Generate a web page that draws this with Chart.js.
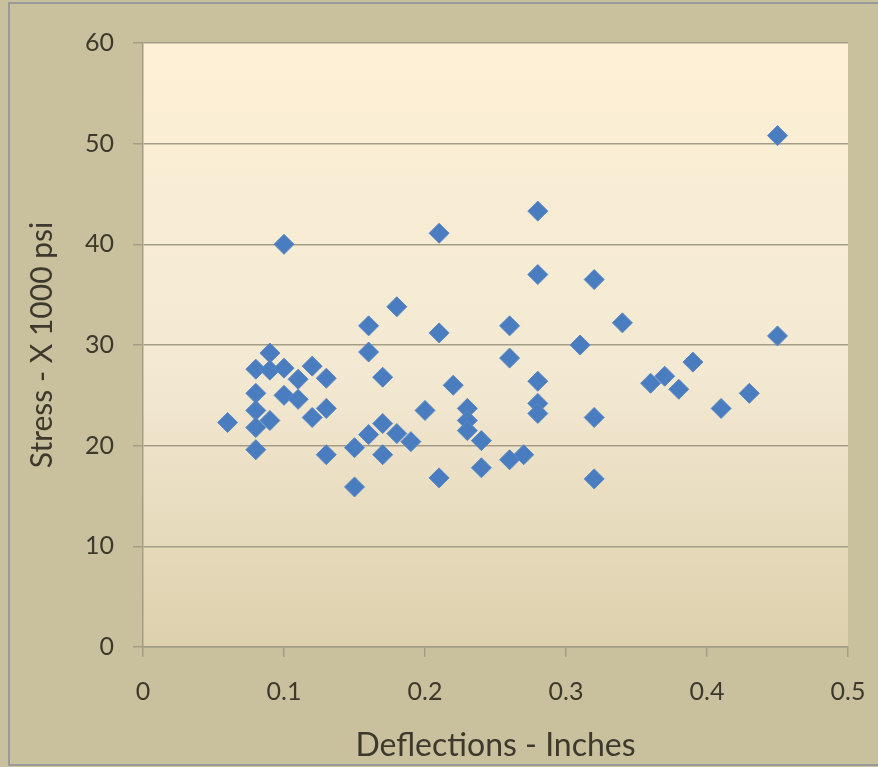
<!DOCTYPE html>
<html>
<head>
<meta charset="utf-8">
<script src="https://cdn.jsdelivr.net/npm/chart.js@4/dist/chart.umd.min.js"></script>
<style>
  html, body { margin: 0; padding: 0; background: #c9c19d; }
  #wrap { width: 878px; height: 767px; position: relative; }
</style>
</head>
<body>
<div id="wrap"><canvas id="c" width="878" height="767"></canvas></div>
<script>
// Deflection (inches) and stress (x 1000 psi) for each specimen
const deflections = [
  0.06, 0.08, 0.08, 0.08, 0.08, 0.08, 0.09, 0.09, 0.09, 0.10,
  0.10, 0.10, 0.11, 0.11, 0.12, 0.12, 0.13, 0.13, 0.13, 0.15,
  0.15, 0.16, 0.16, 0.16, 0.17, 0.17, 0.17, 0.18, 0.18, 0.19,
  0.20, 0.21, 0.21, 0.21, 0.22, 0.23, 0.23, 0.23, 0.24, 0.24,
  0.26, 0.26, 0.26, 0.27, 0.28, 0.28, 0.28, 0.28, 0.28, 0.31,
  0.32, 0.32, 0.32, 0.34, 0.36, 0.37, 0.38, 0.39, 0.41, 0.43,
  0.45, 0.45
];
const stresses = [
  22.3, 27.6, 25.2, 23.5, 21.8, 19.6, 29.2, 27.5, 22.5, 40.0,
  27.7, 25.0, 26.6, 24.6, 27.9, 22.8, 26.7, 23.7, 19.1, 19.8,
  15.9, 31.9, 29.3, 21.1, 26.8, 22.2, 19.1, 33.8, 21.2, 20.4,
  23.5, 41.1, 31.2, 16.8, 26.0, 23.7, 22.5, 21.5, 20.5, 17.8,
  31.9, 28.7, 18.6, 19.1, 43.3, 37.0, 26.4, 24.2, 23.2, 30.0,
  36.5, 22.8, 16.7, 32.2, 26.2, 26.9, 25.6, 28.3, 23.7, 25.2,
  50.8, 30.9
];
const xTicks = [0, 0.1, 0.2, 0.3, 0.4, 0.5];
const yTicks = [0, 10, 20, 30, 40, 50, 60];

const xTitle = 'Deflections - Inches';
const yTitle = 'Stress - X 1000 psi';

const points = deflections.map((d, i) => ({ x: d, y: stresses[i] }));

const FONT = 'Lato, "Open Sans", sans-serif';
const TEXT = '#3d392c';
const GRID = '#a39d88';

// Tan frame and cream-to-tan plot background
const backdrop = {
  id: 'backdrop',
  beforeDraw(chart) {
    const { ctx, chartArea: a, width, height } = chart;
    ctx.save();
    ctx.fillStyle = '#c9c19d';
    ctx.fillRect(0, 0, width, height);
    ctx.strokeStyle = '#9a9a98';
    ctx.lineWidth = 2;
    ctx.strokeRect(9, 3, width + 10, height - 5);
    const g = ctx.createLinearGradient(0, a.top, 0, a.bottom);
    g.addColorStop(0, '#fdf0d6');
    g.addColorStop(0.55, '#f3e9d2');
    g.addColorStop(1, '#ddd0ad');
    ctx.fillStyle = g;
    ctx.fillRect(a.left, a.top, a.right - a.left, a.bottom - a.top);
    ctx.restore();
  }
};

new Chart(document.getElementById('c'), {
  type: 'scatter',
  data: {
    datasets: [{
      data: points,
      pointStyle: 'rectRot',
      pointRadius: 10,
      pointHoverRadius: 10,
      backgroundColor: '#4a7dc0',
      borderColor: '#5a88c4',
      borderWidth: 1
    }]
  },
  options: {
    responsive: false,
    animation: false,
    events: [],
    layout: { padding: { left: 0, top: 43, right: 30, bottom: 0 } },
    plugins: { legend: { display: false }, tooltip: { enabled: false } },
    scales: {
      x: {
        type: 'linear',
        min: 0, max: 0.5,
        afterBuildTicks(s) { s.ticks = xTicks.map(v => ({ value: v })); },
        afterFit(s) { s.height = 120; s.paddingLeft = 0; s.paddingRight = 0; },
        border: { display: true, color: GRID, width: 1.5 },
        grid: { drawOnChartArea: false, drawTicks: true, tickLength: 10, color: GRID, lineWidth: 1.5 },
        ticks: {
          padding: 20,
          color: TEXT,
          font: { family: FONT, size: 25 },
          callback: v => String(v)
        },
        title: {
          display: true,
          text: xTitle,
          color: TEXT,
          font: { family: FONT, size: 32 },
          padding: { top: 4, bottom: 2 }
        }
      },
      y: {
        type: 'linear',
        min: 0, max: 60,
        afterBuildTicks(s) { s.ticks = yTicks.map(v => ({ value: v })); },
        afterFit(s) { s.width = 143; s.paddingTop = 0; s.paddingBottom = 0; },
        border: { display: true, color: GRID, width: 1.5 },
        grid: { drawOnChartArea: true, drawTicks: true, tickLength: 10, color: GRID, lineWidth: 1.5 },
        ticks: {
          padding: 19,
          color: TEXT,
          font: { family: FONT, size: 25 },
          callback: v => String(v)
        },
        title: {
          display: true,
          text: yTitle,
          color: TEXT,
          font: { family: FONT, size: 30 },
          padding: { top: 24, bottom: 0 }
        }
      }
    }
  },
  plugins: [backdrop]
});
</script>
</body>
</html>
